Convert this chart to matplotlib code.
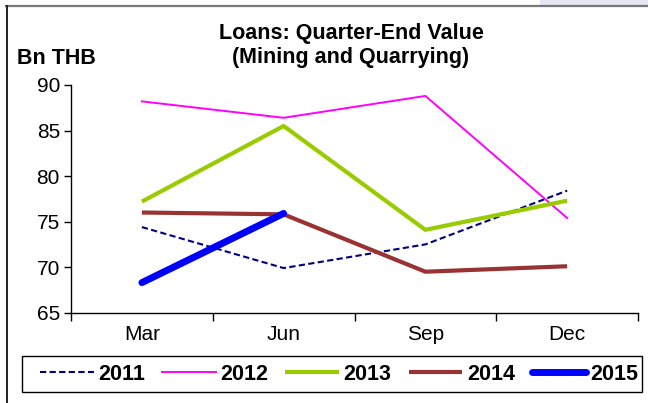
import matplotlib
matplotlib.use("Agg")
import matplotlib.pyplot as plt
from matplotlib.lines import Line2D
from matplotlib.patches import Rectangle

plt.rcParams['font.family'] = ['Liberation Sans', 'DejaVu Sans']

# quarter-end loan values, Bn THB
quarters = ["Mar", "Jun", "Sep", "Dec"]
y2011 = [74.4, 69.9, 72.5, 78.4]
y2012 = [88.2, 86.4, 88.8, 75.4]
y2013 = [77.2, 85.5, 74.1, 77.3]
y2014 = [76.0, 75.8, 69.5, 70.1]
y2015 = [68.3, 75.9]
yticks = [65, 70, 75, 80, 85, 90]

fig = plt.figure(figsize=(6.48, 4.03), dpi=100)
ax = fig.add_axes([71 / 648, 1 - 312.7 / 403, 567 / 648, (312.7 - 85) / 403])

x = list(range(len(quarters)))
ax.plot(x, y2011, color="#000080", lw=1.5, ls=(0, (3, 1.6)), label="2011")
ax.plot(x, y2012, color="#FF00FF", lw=1.4, label="2012")
ax.plot(x, y2013, color="#99CC00", lw=3.0, solid_capstyle="butt", label="2013")
ax.plot(x, y2014, color="#993333", lw=3.0, solid_capstyle="butt", label="2014")
ax.plot(x[:len(y2015)], y2015, color="#0000FF", lw=5.0, solid_capstyle="round", label="2015")

ax.set_xlim(-0.5, len(quarters) - 0.5)
ax.set_ylim(65, 90)
ax.set_yticks(yticks)
ax.tick_params(axis="y", direction="out", length=5, width=1, labelsize=15, pad=3)

# category labels between boundary ticks
ax.set_xticks([i - 0.5 for i in range(len(quarters) + 1)])
ax.set_xticklabels([])
ax.set_xticks(x, minor=True)
ax.set_xticklabels(quarters, minor=True)
ax.tick_params(axis="x", which="major", direction="out", length=6, width=1)
ax.tick_params(axis="x", which="minor", length=0, labelsize=15, pad=9)

for s in ("top", "right"):
    ax.spines[s].set_visible(False)
for s in ("left", "bottom"):
    ax.spines[s].set_linewidth(1)

fig.text(351 / 648, 1 - 33 / 403, "Loans: Quarter-End Value",
         ha="center", va="center", fontsize=15.5, fontweight="bold")
fig.text(351 / 648, 1 - 58 / 403, "(Mining and Quarrying)",
         ha="center", va="center", fontsize=15.5, fontweight="bold")
fig.text(17 / 648, 1 - 59 / 403, "Bn THB", ha="left", va="center",
         fontsize=15.5, fontweight="bold")

# legend entries without frame, box drawn separately
leg = fig.legend(loc="center", bbox_to_anchor=(339 / 648, 1 - 374 / 403), ncol=5,
                 prop={"weight": "bold", "size": 15.5}, handlelength=2.5,
                 handletextpad=0.2, columnspacing=0.8, borderpad=0.3,
                 frameon=False)
fig.add_artist(Rectangle((22 / 648, 1 - 392 / 403), 620 / 648, 36 / 403,
                         transform=fig.transFigure, fill=False, edgecolor="black", lw=1))

# outer frame
fig.add_artist(Rectangle((540 / 648, 1 - 5 / 403), 1, 5 / 403, transform=fig.transFigure,
                         color="#E6E6F2", lw=0))
fig.add_artist(Line2D([6 / 648, 1], [1 - 5.5 / 403] * 2, transform=fig.transFigure,
                      color="#777777", lw=1.6))
fig.add_artist(Line2D([6.5 / 648] * 2, [0, 1 - 5.5 / 403], transform=fig.transFigure,
                      color="#222222", lw=1.4))

fig.savefig("out.png", dpi=100)
